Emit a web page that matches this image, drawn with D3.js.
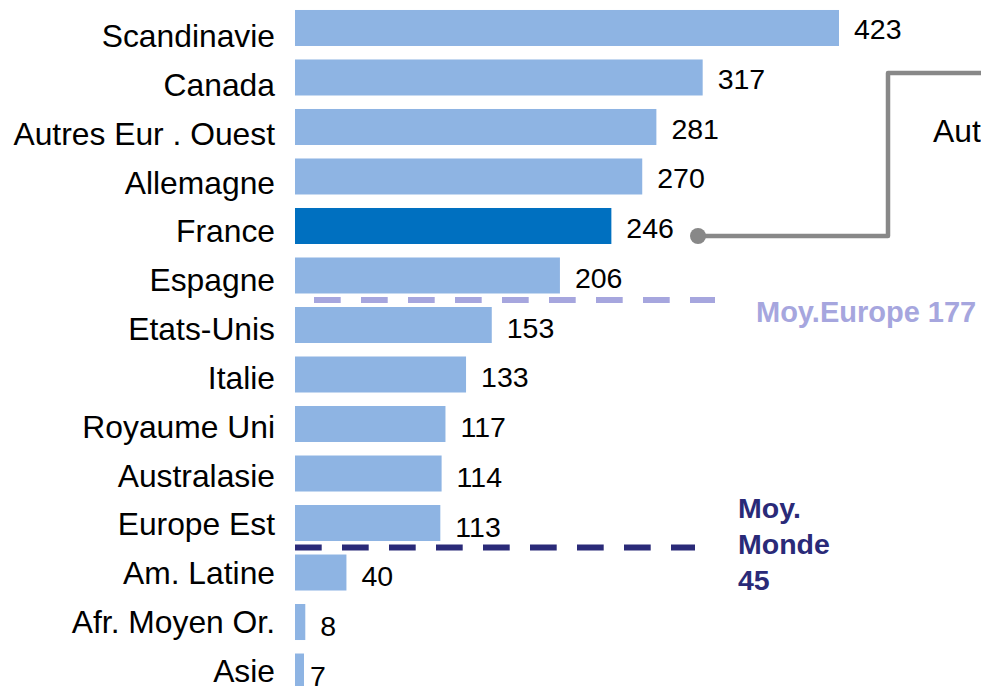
<!DOCTYPE html>
<html>
<head>
<meta charset="utf-8">
<script src="https://cdn.jsdelivr.net/npm/d3@7"></script>
<style>
  html, body { margin: 0; padding: 0; background: #fff; overflow: hidden; }
  svg { display: block; font-family: "Liberation Sans", Arial, sans-serif; }
</style>
</head>
<body>
<div id="chart"></div>
<script>
// == Data ====================================================================

const categories = ['Scandinavie', 'Canada', 'Autres Eur . Ouest', 'Allemagne', 'France',
  'Espagne', 'Etats-Unis', 'Italie', 'Royaume Uni', 'Australasie', 'Europe Est',
  'Am. Latine', 'Afr. Moyen Or.', 'Asie']
const values = [423, 317, 281, 270, 246, 206, 153, 133, 117, 114, 113, 40, 8, 7]
const highlighted = 'France'

// averages drawn as dashed lines, under the row named in "after"
const avgNames = ['Moy.Europe', 'Moy. Monde']
const avgValues = [177, 45]
const avgAfter = ['Espagne', 'Europe Est']

// == Layout ==================================================================

const width = 981
const height = 686
const x0 = 295

const svg = d3.select('#chart').append('svg')
  .attr('width', width)
  .attr('height', height)

const x = d3.scaleLinear().domain([0, 423]).range([x0, 839])

// bars: top of first 10, step 49.5, height 36
const y = d3.scaleBand().domain(categories)
  .range([10 - 6.75, 10 - 6.75 + 49.5 * categories.length])
  .paddingInner(13.5 / 49.5).paddingOuter(0.136)

const rows = categories.map((c, i) => ({ name: c, value: values[i] }))

// == Bars ====================================================================

svg.append('g').selectAll('rect')
  .data(rows)
  .join('rect')
  .attr('x', x(0))
  .attr('y', d => y(d.name))
  .attr('width', d => x(d.value) - x(0))
  .attr('height', y.bandwidth())
  .attr('fill', d => d.name === highlighted ? '#0070c0' : '#8eb4e3')

// category labels (they sit a bit lower at the top, a bit higher at the bottom)
const yLabel = d3.scalePoint().domain(categories).range([47, 682])
svg.append('g').selectAll('text')
  .data(rows)
  .join('text')
  .attr('x', 275)
  .attr('y', d => yLabel(d.name))
  .attr('text-anchor', 'end')
  .attr('font-size', 31.8)
  .attr('fill', '#000')
  .text(d => d.name)

// value labels
const yValue = d3.scalePoint().domain(categories).range([39, 686])
svg.append('g').selectAll('text')
  .data(rows)
  .join('text')
  .attr('x', d => x(d.value) + (d.value < 8 ? 6 : 15))
  .attr('y', d => yValue(d.name))
  .attr('font-size', 28.5)
  .attr('fill', '#000')
  .text(d => d.value)

// == Average lines ===========================================================

const gapMid = name => y(name) + y.bandwidth() + 6.5
const avgColors = ['#a6a6de', '#2a2a78']
const avgStart = [314, 295]
const avgEnd = [715, 695]

avgValues.forEach((v, i) => {
  svg.append('line')
    .attr('x1', avgStart[i])
    .attr('x2', avgEnd[i])
    .attr('y1', gapMid(avgAfter[i]))
    .attr('y2', gapMid(avgAfter[i]))
    .attr('stroke', avgColors[i])
    .attr('stroke-width', 6)
    .attr('stroke-dasharray', '26.7 20.3')
})

// Moy.Europe 177
svg.append('text')
  .attr('x', 756)
  .attr('y', 322)
  .attr('font-size', 29)
  .attr('font-weight', 'bold')
  .attr('fill', avgColors[0])
  .text(avgNames[0] + ' ' + avgValues[0])

// Moy. Monde 45 on three lines
const monde = svg.append('text')
  .attr('x', 738)
  .attr('y', 518)
  .attr('font-size', 28.5)
  .attr('font-weight', 'bold')
  .attr('fill', avgColors[1])
;['Moy.', 'Monde', String(avgValues[1])].forEach((t, i) => {
  monde.append('tspan').attr('x', 738).attr('dy', i === 0 ? 0 : 36).text(t)
})

// == Callout from France =====================================================

const fy = y(highlighted) + y.bandwidth() / 2 + 10
svg.append('path')
  .attr('d', d3.line()([[698, fy], [888, fy], [888, 73], [990, 73]]))
  .attr('fill', 'none')
  .attr('stroke', '#888888')
  .attr('stroke-width', 4.5)
  .attr('stroke-linejoin', 'round')
svg.append('circle')
  .attr('cx', 698)
  .attr('cy', fy)
  .attr('r', 8)
  .attr('fill', '#888888')

svg.append('text')
  .attr('x', 933)
  .attr('y', 142)
  .attr('font-size', 31.8)
  .attr('fill', '#000')
  .text('Autres pays')
</script>
</body>
</html>
